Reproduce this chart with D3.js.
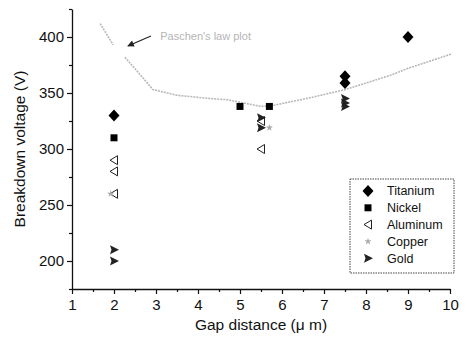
<!DOCTYPE html>
<html>
<head>
<meta charset="utf-8">
<script src="https://cdn.jsdelivr.net/npm/d3@7"></script>
<style>
  body { margin: 0; background: #fff; }
  svg { font-family: Arial, "Liberation Sans", sans-serif; }
</style>
</head>
<body>
<div id="chart"></div>
<script>
// series data
const titanium = [[2, 330], [7.5, 365], [7.5, 359], [9, 400]];
const nickel = [[2, 310], [5, 338], [5.7, 338]];
const aluminum = [[2, 290], [2, 280], [2, 260], [5.5, 325], [5.5, 300]];
const copper = [[1.92, 260], [5.7, 319]];
const gold = [[2, 210], [2, 200], [5.5, 328], [5.5, 319], [7.5, 345], [7.5, 341], [7.5, 338]];

// Paschen's law curve (null = gap where the arrow points)
const paschen = [[1.67, 412], [1.98, 393], null, [2.26, 382], [2.93, 353], [3.5, 348],
  [4.3, 345], [4.7, 344], [5.5, 338], [5.8, 339], [6.7, 346], [7.5, 353],
  [8.6, 366], [9, 372], [10.05, 385]];

const xTicks = [1, 2, 3, 4, 5, 6, 7, 8, 9, 10];
const yTicks = [200, 250, 300, 350, 400];
const seriesNames = ['Titanium', 'Nickel', 'Aluminum', 'Copper', 'Gold'];

const width = 467, height = 347;
const svg = d3.select('#chart').append('svg')
  .attr('width', width)
  .attr('height', height);

const x = d3.scaleLinear().domain([1, 10]).range([72, 450]);
const y = d3.scaleLinear().domain([175, 425]).range([289, 9]);

// axes
const xAxis = d3.axisBottom(x).tickValues(xTicks).tickSize(5).tickSizeOuter(0).tickPadding(5);
const xMinor = d3.axisBottom(x).tickValues(d3.range(1.5, 10, 1)).tickSize(3).tickFormat('');
const yAxis = d3.axisLeft(y).tickValues(yTicks).tickSize(5).tickSizeOuter(0).tickPadding(3);
const yMinor = d3.axisLeft(y).tickValues([175, 225, 275, 325, 375, 425]).tickSize(3).tickFormat('');

const gx = svg.append('g').attr('transform', `translate(0, ${y(175)})`).call(xAxis);
svg.append('g').attr('transform', `translate(0, ${y(175)})`).call(xMinor).select('.domain').remove();
const gy = svg.append('g').attr('transform', `translate(${x(1)}, 0)`).call(yAxis);
svg.append('g').attr('transform', `translate(${x(1)}, 0)`).call(yMinor).select('.domain').remove();

svg.selectAll('.domain').attr('stroke', '#111').attr('stroke-width', 1.3);
svg.selectAll('.tick line').attr('stroke', '#111').attr('stroke-width', 1.2);
gx.selectAll('text').style('font-size', '15px').attr('fill', '#111');
gy.selectAll('text').style('font-size', '15px').attr('fill', '#111');

// axis titles
svg.append('text')
  .attr('x', (x(1) + x(10)) / 2)
  .attr('y', 330)
  .attr('text-anchor', 'middle')
  .style('font-size', '15.5px')
  .attr('fill', '#111')
  .text('Gap distance (μ m)');

svg.append('text')
  .attr('transform', `translate(25, ${y(300)}) rotate(-90)`)
  .attr('text-anchor', 'middle')
  .style('font-size', '15.5px')
  .attr('fill', '#111')
  .text('Breakdown voltage (V)');

// Paschen's law curve
const line = d3.line()
  .defined(d => d !== null)
  .x(d => x(d[0]))
  .y(d => y(d[1]));

svg.append('path')
  .datum(paschen)
  .attr('fill', 'none')
  .attr('stroke', '#b8b8b8')
  .attr('stroke-width', 1.6)
  .attr('stroke-dasharray', '2,1')
  .attr('d', line);

// annotation arrow + text
svg.append('defs').append('marker')
  .attr('id', 'arrow')
  .attr('viewBox', '0 0 10 10')
  .attr('refX', 9).attr('refY', 5)
  .attr('markerWidth', 7).attr('markerHeight', 6)
  .attr('orient', 'auto')
  .append('path')
  .attr('d', 'M0,0 L10,5 L0,10 Z')
  .attr('fill', '#222');

svg.append('line')
  .attr('x1', x(2.88)).attr('y1', y(401))
  .attr('x2', x(2.33)).attr('y2', y(392))
  .attr('stroke', '#222')
  .attr('stroke-width', 1.1)
  .attr('marker-end', 'url(#arrow)');

svg.append('text')
  .attr('x', x(3.1))
  .attr('y', y(397))
  .style('font-size', '11px')
  .attr('fill', '#b5b5b5')
  .text("Paschen's law plot");

// marker shapes
const shapes = {
  Titanium: { path: 'M0,-6 L5.5,0 L0,6 L-5.5,0 Z', fill: '#000', stroke: 'none' },
  Nickel: { path: 'M-3.5,-3.5 L3.5,-3.5 L3.5,3.5 L-3.5,3.5 Z', fill: '#000', stroke: 'none' },
  Aluminum: { path: 'M-4,0 L3.5,-4.5 L3.5,4.5 Z', fill: 'none', stroke: '#222' },
  Copper: { path: d3.symbol(d3.symbolStar, 16)(), fill: '#aaa', stroke: 'none' },
  Gold: { path: 'M-4,-4.5 L5,0 L-4,4.5 L-2.5,0 Z', fill: '#222', stroke: 'none' }
};

const seriesData = [titanium, nickel, aluminum, copper, gold];

seriesData.forEach((data, i) => {
  const s = shapes[seriesNames[i]];
  svg.append('g').selectAll('path')
    .data(data)
    .enter()
    .append('path')
    .attr('transform', d => `translate(${x(d[0])}, ${y(d[1])})`)
    .attr('d', s.path)
    .attr('fill', s.fill)
    .attr('stroke', s.stroke)
    .attr('stroke-width', 1);
});

// legend
const legend = svg.append('g').attr('transform', 'translate(350, 179)');
legend.append('rect')
  .attr('width', 104).attr('height', 94)
  .attr('fill', '#fff')
  .attr('stroke', '#444')
  .attr('stroke-width', 1)
  .attr('stroke-dasharray', '1.5,1');

seriesNames.forEach((name, i) => {
  const s = shapes[name];
  const row = legend.append('g').attr('transform', `translate(0, ${12 + i * 16.8})`);
  row.append('path')
    .attr('transform', 'translate(18, 0)')
    .attr('d', s.path)
    .attr('fill', s.fill)
    .attr('stroke', s.stroke)
    .attr('stroke-width', 1);
  row.append('text')
    .attr('x', 37)
    .attr('y', 0)
    .attr('dy', '0.35em')
    .style('font-size', '12.5px')
    .attr('fill', '#111')
    .text(name);
});
</script>
</body>
</html>
